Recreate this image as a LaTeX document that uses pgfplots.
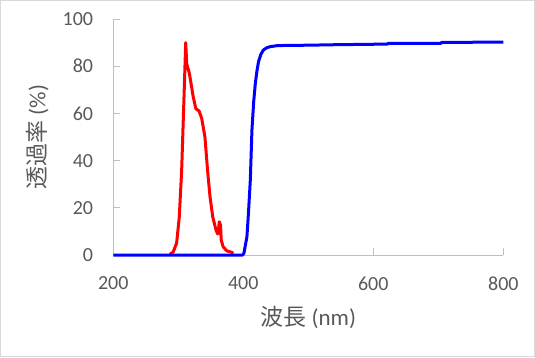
\documentclass[border=0pt]{standalone}
\usepackage{fontspec}
\setmainfont{Carlito}
\newfontfamily\jp{Noto Sans CJK JP}
\usepackage{pgfplots}
\pgfplotsset{compat=1.18}
\definecolor{txt}{HTML}{595959}
\definecolor{axgray}{HTML}{BFBFBF}
\definecolor{frame}{HTML}{D9D9D9}
\begin{document}
\begin{tikzpicture}
\begin{axis}[
  scale only axis,
  width=390pt, height=236pt,
  xmin=200, xmax=800, ymin=0, ymax=100,
  xtick={200,400,600,800},
  ytick={0,20,40,60,80,100},
  axis lines*=left,
  axis line style={axgray, line width=0.9pt},
  tick style={axgray, line width=0.9pt},
  tick align=inside,
  major tick length=7pt,
  /pgf/number format/assume math mode=true,
  ticklabel style={font=\fontsize{20}{24}\selectfont, text=txt, inner sep=0pt},
  xticklabel style={anchor=north, yshift=-21.5pt},
  yticklabel style={anchor=east, xshift=-20pt},
  xlabel={{\jp 波長} (nm)},
  ylabel={{\jp 透過率} (\%)},
  label style={font=\fontsize{23}{27}\selectfont, text=txt},
  xlabel style={at={(axis description cs:0.5,-0.2627)}, anchor=center},
  ylabel style={at={(axis description cs:-0.1949,0.5)}, anchor=center},
  clip=false,
]
\draw[frame, line width=0.9pt] (rel axis cs:-0.2893,-0.4303) rectangle (rel axis cs:1.0801,1.0786);
\addplot[red, line width=3pt, line join=round, line cap=round] coordinates {
(287.7,0.5) (292,1.2) (297.4,5) (301.5,16) (305.2,36) (308.8,67) (311.4,90)
(313,81) (317,77) (323,67) (327,62) (332,61) (336,57.9) (341,50) (345,36)
(348.8,24.7) (353,16.2) (358,10.6) (360.6,8.9) (362,11) (363,14.1) (365,12.7)
(366,6.4) (369,3.5) (374.5,1.8) (383.7,1)
};
\addplot[blue, line width=3pt, line join=round] coordinates {
(200,0) (399,0) (401,0.8) (405.6,7.8) (408,18) (410.8,31.8) (413.3,53) (416,65)
(418.5,72.7) (421,78) (423.5,82) (427,85) (431,86.9) (436,87.8) (441.5,88.3)
(452,88.7) (465,88.8) (500,88.9) (540,89.1) (600,89.3) (622,89.4) (623,89.7)
(704,89.7) (705,90.1) (800,90.2)
};
\end{axis}
\end{tikzpicture}
\end{document}
